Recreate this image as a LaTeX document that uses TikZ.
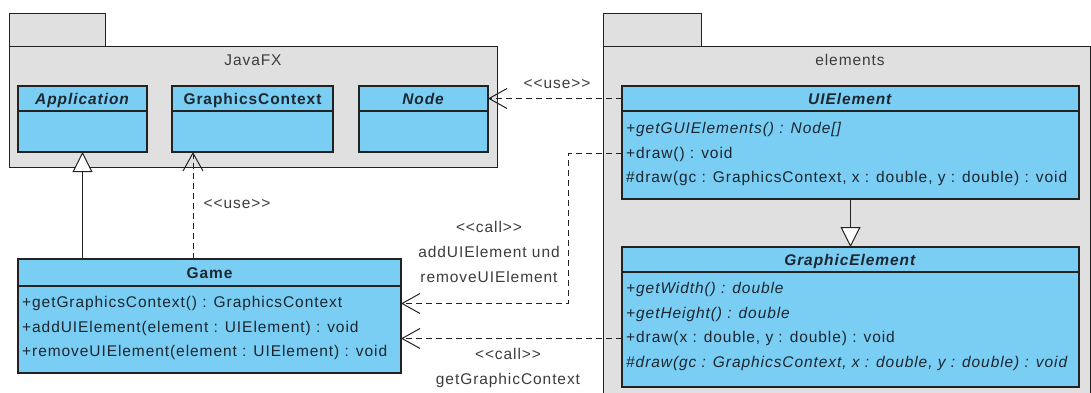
\documentclass[tikz,border=0pt]{standalone}
\usepackage{fontspec}
\setmainfont{Liberation Sans}[LetterSpace=6]
\usepackage{xcolor}
\usetikzlibrary{positioning, arrows.meta, calc}
\definecolor{classBlue}{HTML}{7ACDF3}
\definecolor{packGrey}{HTML}{E0E0E0}
\definecolor{lineDark}{HTML}{222222}
\definecolor{textDark}{HTML}{1C2730}
\definecolor{labelGrey}{HTML}{3C3C3C}

\begin{document}
\begin{tikzpicture}[
  x=1pt, y=-1pt,
  every node/.style={font=\fontsize{15.5}{25}\selectfont, text=textDark},
  pkg/.style={draw=lineDark, line width=0.9pt, fill=packGrey},
  pkglabel/.style={anchor=base, text=labelGrey},
  clshead/.style={
    rectangle, draw=lineDark, line width=1.1pt, fill=classBlue,
    anchor=north west, inner sep=0pt, outer sep=0pt,
    minimum width=#1, minimum height=25pt,
    text height=11pt, text depth=0pt,
    font=\fontsize{15.5}{25}\selectfont\bfseries
  },
  clsbody/.style={
    rectangle, draw=lineDark, line width=1.1pt, fill=classBlue,
    inner sep=0pt, outer sep=0pt, minimum width=#1
  },
  member/.style={anchor=base west, inner sep=0pt},
  lbl/.style={anchor=base, inner sep=0pt, text=labelGrey, align=center},
  dep/.style={
    draw=lineDark, line width=1pt, dash pattern=on 6pt off 4pt,
    -{Straight Barb[length=18pt, width=20pt]}
  },
  inherit/.style={
    draw=lineDark, line width=1pt,
    -{Triangle[open, fill=white, length=20pt, width=20pt]}
  },
]
\useasboundingbox (0,0) rectangle (1091,392);

% Packages
\draw[pkg] (9,13) rectangle (105,46);
\draw[pkg] (9,46) rectangle (497,167);
\node[pkglabel] (fxlbl) at (253,65) {JavaFX};

\draw[pkg] (603,13) rectangle (701,46);
\draw[pkg] (603,46) rectangle (1090,400);
\node[pkglabel] (elemlbl) at (850,65) {elements};

% JavaFX classes
\node[clshead=129] (apphead) at (18,86) {\textit{Application}};
\node[clsbody=129, minimum height=41, below=0pt of apphead] (appbody) {};

\node[clshead=161, right=25pt of apphead] (gchead) {GraphicsContext};
\node[clsbody=161, minimum height=41, below=0pt of gchead] (gcbody) {};

\node[clshead=129, right=26pt of gchead] (nodehead) {\textit{Node}};
\node[clsbody=129, minimum height=41, below=0pt of nodehead] (nodebody) {};

% Game
\node[clshead=383, minimum height=27] (gamehead) at (18,259) {Game};
\node[clsbody=383, minimum height=87, below=0pt of gamehead] (gamebody) {};
\node[member] (game-m1) at (22,307.5) {+getGraphicsContext() : GraphicsContext};
\node[member] (game-m2) at (22,332) {+addUIElement(element : UIElement) : void};
\node[member] (game-m3) at (22,356.5) {+removeUIElement(element : UIElement) : void};

% elements classes
\node[clshead=457] (uihead) at (622,86) {\textit{UIElement}};
\node[clsbody=457, minimum height=88, below=0pt of uihead] (uibody) {};
\node[member] (ui-m1) at (626,133.5) {\textit{+getGUIElements() : Node[]}};
\node[member] (ui-m2) at (626,158) {+draw() : void};
\node[member] (ui-m3) at (626,182.5) {\#draw(gc : GraphicsContext, x : double, y : double) : void};

\node[clshead=457, below=48pt of uibody] (gehead) {\textit{GraphicElement}};
\node[clsbody=457, minimum height=115, below=0pt of gehead] (gebody) {};
\node[member] (ge-m1) at (626,293.5) {\textit{+getWidth() : double}};
\node[member] (ge-m2) at (626,318) {\textit{+getHeight() : double}};
\node[member] (ge-m3) at (626,342.5) {+draw(x : double, y : double) : void};
\node[member] (ge-m4) at (626,367) {\textit{\#draw(gc : GraphicsContext, x : double, y : double) : void}};

% Relations
\coordinate (gcuse) at ($(gcbody.south west)+(21,0)$);
\draw[inherit] (appbody.south |- gamehead.north) -- (appbody.south);
\draw[dep] (gcuse |- gamehead.north) -- (gcuse);
\node[lbl] (uselbl2) at (237,208) {<{}<use>{}>};

\draw[dep] (uihead.west) -- (nodehead.east);
\node[lbl] (uselbl1) at (557,88) {<{}<use>{}>};

\draw[inherit] (uibody.south) -- (gehead.north);

\draw[dep] (uibody.west |- ui-m2) -- ++(-54,0) |- (gamebody.east |- game-m1);
\node[lbl] (calllbl1) at (489,282) {<{}<call>{}>\\addUIElement und\\removeUIElement};

\draw[dep] (gebody.west |- ge-m3) -- (gamebody.east |- ge-m3);
\node[lbl] (calllbl2) at (508,384) {<{}<call>{}>\\getGraphicContext};

\end{tikzpicture}
\end{document}
